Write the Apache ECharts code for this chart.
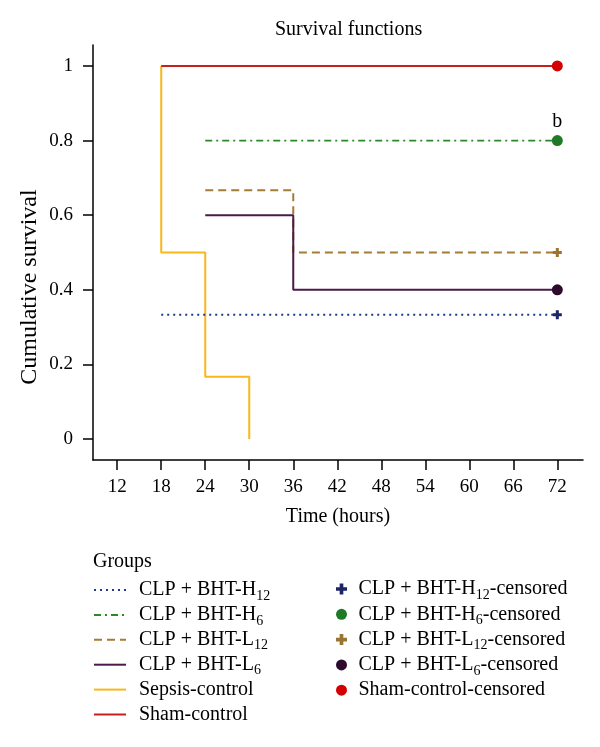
<!DOCTYPE html>
<html>
<head>
<meta charset="utf-8">
<script src="https://cdn.jsdelivr.net/npm/echarts@6/dist/echarts.min.js"></script>
<style>
html,body{margin:0;padding:0;background:#fff;}
#chart{width:600px;height:747px;}
</style>
</head>
<body>
<div id="chart"></div>
<script>
// ---- data ----
const xTicks = [12, 18, 24, 30, 36, 42, 48, 54, 60, 66, 72];
const yTicks = [0, 0.2, 0.4, 0.6, 0.8, 1];

const timeH12 = [18, 72];          const survH12 = [0.333, 0.333];
const timeH6 = [24, 72];           const survH6 = [0.8, 0.8];
const timeL12 = [24, 36, 72];      const survL12 = [0.667, 0.5, 0.5];
const timeL6 = [24, 36, 72];       const survL6 = [0.6, 0.4, 0.4];
const timeSepsis = [18, 18, 24, 30]; const survSepsis = [1, 0.5, 0.167, 0];
const timeSham = [18, 72];         const survSham = [1, 1];

const censorTime = 72;
const censH12 = [0.333];
const censH6 = [0.8];
const censL12 = [0.5];
const censL6 = [0.4];
const censSham = [1];
const censH6Note = 'b';

const lineNames = ['CLP + BHT-H12', 'CLP + BHT-H6', 'CLP + BHT-L12', 'CLP + BHT-L6', 'Sepsis-control', 'Sham-control'];
const censNames = ['CLP + BHT-H12-censored', 'CLP + BHT-H6-censored', 'CLP + BHT-L12-censored', 'CLP + BHT-L6-censored', 'Sham-control-censored'];

// ---- helpers ----
const FONT = 'Liberation Serif';
function zip(t, s) { return t.map((v, i) => [v, s[i]]); }
function cens(vals) { return vals.map(v => [censorTime, v]); }
function richName(name) {
  const m = name.match(/^(CLP \+ BHT-[HL])(\d+)(.*)$/);
  if (m) return '{t|' + m[1] + '}{s|' + m[2] + '}' + (m[3] ? '{t|' + m[3] + '}' : '');
  return '{t|' + name + '}{s| }';
}
const rich = {
  t: { fontFamily: FONT, fontSize: 20, color: '#000', lineHeight: 22 },
  s: { fontFamily: FONT, fontSize: 14, color: '#000', lineHeight: 10, verticalAlign: 'bottom', padding: [0, 0, -2, 0] }
};
const plus = 'path://M3,0H6V3H9V6H6V9H3V6H0V3H3Z';

function stepLine(name, data, color, type, width) {
  return {
    name, type: 'line', step: 'end', data, symbol: 'none', showSymbol: false,
    lineStyle: { color, type, width }, itemStyle: { color }, silent: true
  };
}
function censSeries(name, data, color, symbol, size, label) {
  return {
    name, type: 'scatter', data, symbol, symbolSize: size, itemStyle: { color, opacity: 1 }, z: 5,
    label: label ? { show: true, position: 'top', distance: 3, formatter: label, fontFamily: FONT, fontSize: 20, color: '#000' } : { show: false }
  };
}

const chart = echarts.init(document.getElementById('chart'), null, { renderer: 'canvas' });
chart.setOption({
  animation: false,
  backgroundColor: '#fff',
  title: [
    { text: 'Survival functions', left: 275, top: 20, padding: 0,
      textStyle: { fontFamily: FONT, fontSize: 20, fontWeight: 'normal', color: '#000' } },
    { text: 'Groups', left: 93, top: 552, padding: 0,
      textStyle: { fontFamily: FONT, fontSize: 20, fontWeight: 'normal', color: '#000' } }
  ],
  grid: { left: 93, right: 17, top: 45, bottom: 287, containLabel: false },
  xAxis: {
    type: 'value', min: 8.7, max: 75.5,
    name: 'Time (hours)', nameLocation: 'middle', nameGap: 47,
    nameTextStyle: { fontFamily: FONT, fontSize: 20, color: '#000' },
    axisLine: { show: true, onZero: false, lineStyle: { color: '#000', width: 1.5 } },
    axisTick: { show: true, customValues: xTicks, length: 10, lineStyle: { color: '#000', width: 1.5 } },
    axisLabel: { customValues: xTicks, margin: 18, fontFamily: FONT, fontSize: 19, color: '#000' },
    splitLine: { show: false }
  },
  yAxis: {
    type: 'value', min: -0.056, max: 1.056,
    axisLine: { show: true, onZero: false, lineStyle: { color: '#000', width: 1.5 } },
    axisTick: { show: true, customValues: yTicks, length: 10, lineStyle: { color: '#000', width: 1.5 } },
    axisLabel: { customValues: yTicks, margin: 20, fontFamily: FONT, fontSize: 19, color: '#000' },
    splitLine: { show: false }
  },
  graphic: [{
    type: 'text', x: 30, y: 287, rotation: Math.PI / 2,
    style: { text: 'Cumulative survival', fontFamily: FONT, fontSize: 24, fill: '#000', align: 'center', verticalAlign: 'middle' }
  }],
  legend: [
    {
      data: lineNames.map(n => ({ name: n, itemStyle: { opacity: 0 } })),
      orient: 'vertical', left: 93, top: 580, padding: 0, itemWidth: 32, itemHeight: 14, itemGap: 1.9,
      formatter: richName, textStyle: { rich, padding: [0, 0, 0, 8] }, selectedMode: false
    },
    {
      data: censNames, orient: 'vertical', left: 336, top: 579, padding: 0, itemWidth: 24, itemHeight: 11, itemGap: 2.3,
      formatter: richName, textStyle: { rich }, selectedMode: false
    }
  ],
  series: [
    stepLine('Sepsis-control', zip(timeSepsis, survSepsis), '#f9b81a', 'solid', 2),
    stepLine('CLP + BHT-H12', zip(timeH12, survH12), '#1f3a8a', [2, 4], 2),
    stepLine('CLP + BHT-H6', zip(timeH6, survH6), '#2a8a2a', [7, 4, 2, 4], 1.8),
    stepLine('CLP + BHT-L12', zip(timeL12, survL12), '#a57c35', [8, 5], 2),
    stepLine('CLP + BHT-L6', zip(timeL6, survL6), '#4a1a4a', 'solid', 2),
    stepLine('Sham-control', zip(timeSham, survSham), '#c81e1e', 'solid', 2),
    censSeries('CLP + BHT-H12-censored', cens(censH12), '#1c2566', plus, 9),
    censSeries('CLP + BHT-H6-censored', cens(censH6), '#1e7a28', 'circle', 11, censH6Note),
    censSeries('CLP + BHT-L12-censored', cens(censL12), '#9a7430', plus, 9),
    censSeries('CLP + BHT-L6-censored', cens(censL6), '#2e0a2e', 'circle', 11),
    censSeries('Sham-control-censored', cens(censSham), '#d40000', 'circle', 11)
  ]
});
</script>
</body>
</html>
